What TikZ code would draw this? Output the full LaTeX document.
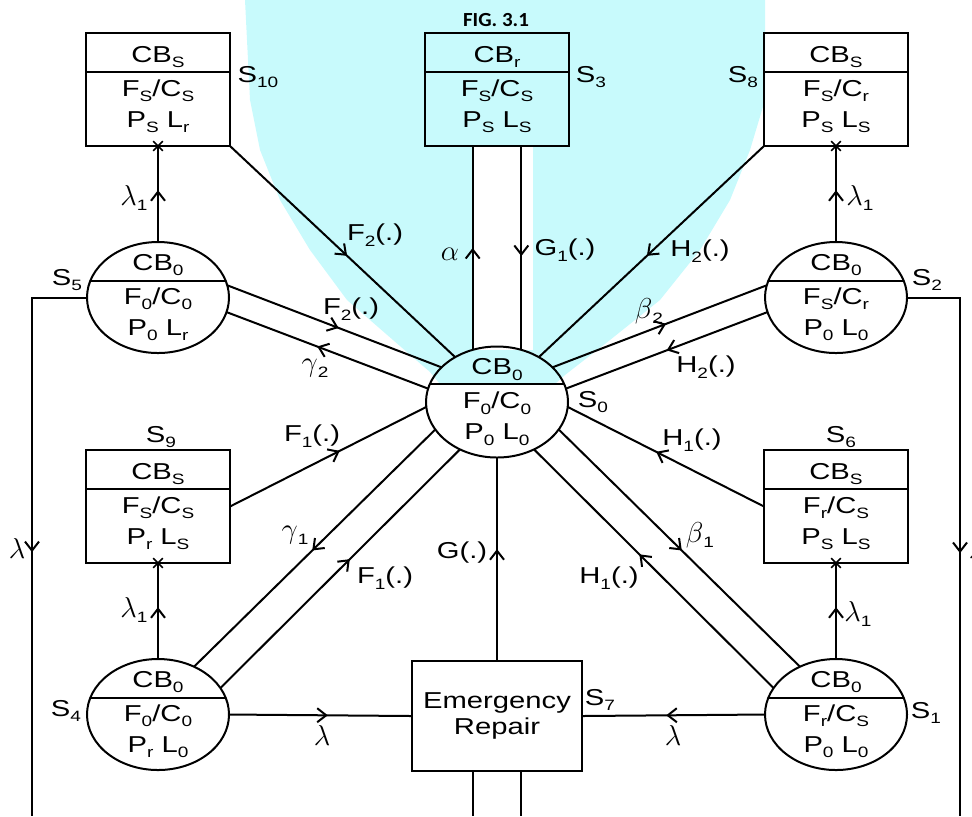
\documentclass[tikz,border=0pt]{standalone}
\usepackage{fontspec}
\setmainfont{Liberation Sans}[FakeStretch=1.27]
\newfontfamily\figfont{Carlito}[FakeStretch=1.05]
\usetikzlibrary{shapes.geometric,shapes.misc,arrows.meta,decorations.markings,calc}

\definecolor{wmcyan}{RGB}{200,250,252}
\newcommand\subt[1]{\raisebox{-2.8pt}{\fontsize{7.5}{7.5}\selectfont #1}}
\newcommand\gk[1]{\scalebox{1.2}{$#1$}}

\tikzset{
	fwd/.style={postaction={decorate},decoration={markings,mark=at position #1 with {\arrow{Straight Barb[length=4.5pt,width=7pt]}}}},
	fwd/.default=0.54,
	stbox/.style={draw,rectangle,minimum width=72pt,minimum height=56.5pt,inner sep=0pt,outer sep=0pt,align=center,font=\fontsize{11.5}{15.5}\selectfont},
	stell/.style={draw,ellipse,minimum width=71pt,minimum height=55.5pt,inner sep=0pt,outer sep=0pt},
	sttxt/.style={align=center,inner sep=0pt,font=\fontsize{11.5}{15.5}\selectfont},
	lab/.style={inner sep=0pt,font=\fontsize{11.5}{13}\selectfont},
	xmark/.style={cross out,draw,minimum size=4pt,inner sep=0pt,line width=.8pt},
}

\begin{document}
\begin{tikzpicture}[x=0.5pt,y=-0.5pt,line width=1pt]
		
		\useasboundingbox (0,0) rectangle (972,816);
		
		% background wash
		\fill[wmcyan] (245,0) -- (250,100) -- (260,150) -- (280,200) -- (310,250) -- (347,300) -- (393,340) -- (430,372) -- (440,384) -- (555,384) -- (565,375) -- (610,340) -- (660,300) -- (700,250) -- (730,200) -- (750,150) -- (765,100) -- (765,0) -- cycle;
		\fill[white] (473,147) rectangle (533,350);
		
		\node[inner sep=0pt,font={\figfont\bfseries\fontsize{10}{11}\selectfont}] (fig) at (496,20) {FIG. 3.1};
		
		\node[stbox] (S10) at (158,89.5) {CB\subt{S}\\[1.5pt]F\subt{S}/C\subt{S}\\P\subt{S} L\subt{r}};
		\node[stbox] (S3) at (497,89.5) {CB\subt{r}\\[1.5pt]F\subt{S}/C\subt{S}\\P\subt{S} L\subt{S}};
		\node[stbox] (S8) at (836,89.5) {CB\subt{S}\\[1.5pt]F\subt{S}/C\subt{r}\\P\subt{S} L\subt{S}};
		\node[stbox] (S9) at (158,506.5) {CB\subt{S}\\[1.5pt]F\subt{S}/C\subt{S}\\P\subt{r} L\subt{S}};
		\node[stbox] (S6) at (836,506.5) {CB\subt{S}\\[1.5pt]F\subt{r}/C\subt{S}\\P\subt{S} L\subt{S}};
		\node[draw,minimum width=85pt,minimum height=55pt,inner sep=0pt,outer sep=0pt,align=center,font=\fontsize{11.5}{13}\selectfont] (ER) at (497,716) {Emergency\\Repair};
		
		\node[stell] (S5) at (158,297.5) {};
		\node[stell] (S0) at (497,402) {};
		\node[stell] (S2) at (836,297.5) {};
		\node[stell] (S4) at (158,714.5) {};
		\node[stell] (S1) at (836,714.5) {};
		
		\node[sttxt] (S5t) at (S5) {CB\subt{0}\\[1.5pt]F\subt{0}/C\subt{0}\\P\subt{0} L\subt{r}};
		\node[sttxt] (S0t) at (S0) {CB\subt{0}\\[1.5pt]F\subt{0}/C\subt{0}\\P\subt{0} L\subt{0}};
		\node[sttxt] (S2t) at (S2) {CB\subt{0}\\[1.5pt]F\subt{S}/C\subt{r}\\P\subt{0} L\subt{0}};
		\node[sttxt] (S4t) at (S4) {CB\subt{0}\\[1.5pt]F\subt{0}/C\subt{0}\\P\subt{r} L\subt{0}};
		\node[sttxt] (S1t) at (S1) {CB\subt{0}\\[1.5pt]F\subt{r}/C\subt{S}\\P\subt{0} L\subt{0}};
		
		% dividers
		\draw ($(S10.north west)+(0,39)$) -- ($(S10.north east)+(0,39)$);
		\draw ($(S3.north west)+(0,39)$) -- ($(S3.north east)+(0,39)$);
		\draw ($(S8.north west)+(0,39)$) -- ($(S8.north east)+(0,39)$);
		\draw ($(S9.north west)+(0,39)$) -- ($(S9.north east)+(0,39)$);
		\draw ($(S6.north west)+(0,39)$) -- ($(S6.north east)+(0,39)$);
		\draw (S5.14) -- (S5.166);
		\draw (S0.15) -- (S0.165);
		\draw (S2.14) -- (S2.166);
		\draw (S4.14) -- (S4.166);
		\draw (S1.14) -- (S1.166);
		
		% state tags
		\node[lab] (tS10) at (258,77) {S\subt{10}};
		\node[lab] (tS3) at (591,77) {S\subt{3}};
		\node[lab] (tS8) at (743,77) {S\subt{8}};
		\node[lab] (tS5) at (67,280) {S\subt{5}};
		\node[lab] (tS2) at (927,280) {S\subt{2}};
		\node[lab] (tS0) at (593,402) {S\subt{0}};
		\node[lab] (tS9) at (161,437) {S\subt{9}};
		\node[lab] (tS6) at (841,437) {S\subt{6}};
		\node[lab] (tS4) at (66,711) {S\subt{4}};
		\node[lab] (tS1) at (926,713) {S\subt{1}};
		\node[lab] (tS7) at (600,700) {S\subt{7}};
		
		% failure of the standby
		\node[xmark] (x10) at (S10.south) {};
		\node[xmark] (x8) at (S8.south) {};
		\node[xmark] (x9) at (S9.south) {};
		\node[xmark] (x6) at (S6.south) {};
		\draw[fwd] (S5.north) -- (S10.south);
		\draw[fwd] (S2.north) -- (S8.south);
		\draw[fwd] (S4.north) -- (S9.south);
		\draw[fwd] (S1.north) -- (S6.south);
		\node[lab] (l10) at (134,198) {\gk{\lambda}\subt{1}};
		\node[lab] (l8) at (860,198) {\gk{\lambda}\subt{1}};
		\node[lab] (l9) at (134,610) {\gk{\lambda}\subt{1}};
		\node[lab] (l6) at (858,614) {\gk{\lambda}\subt{1}};
		
		% top
		\draw[fwd=.52] (S10.south east) -- (S0.133);
		\draw[fwd=.52] (S8.south west) -- (S0.47);
		\draw[fwd=.5] (S0.115) -- (S0.115 |- S3.south);
		\draw[fwd] (S0.65 |- S3.south) -- (S0.65);
		\node[lab] (lF2a) at (375,235) {F\subt{2}(.)};
		\node[lab] (lH2a) at (700,251) {H\subt{2}(.)};
		\node[lab] (la) at (450,254) {\gk{\alpha}};
		\node[lab] (lG1) at (565,250) {G\subt{1}(.)};
		
		% pairs
		\draw[fwd=.52] (S5.10) -- (S0.148);
		\draw[fwd=.55] (S0.169) -- (S5.348);
		\draw[fwd=.53] (S0.32) -- (S2.170);
		\draw[fwd=.5] (S2.192) -- (S0.11);
		\draw[fwd=.56] (S9.east) -- (S0.184);
		\draw[fwd=.55] (S6.west) -- (S0.356);
		\draw[fwd=.51] (S0.204) -- (S4.53);
		\draw[fwd] (S4.23) -- (S0.232);
		\draw[fwd=.51] (S0.336) -- (S1.127);
		\draw[fwd=.56] (S1.157) -- (S0.308);
		\node[lab] (lF2b) at (351,309) {F\subt{2}(.)};
		\node[lab] (lg2) at (315,368) {\gk{\gamma}\subt{2}};
		\node[lab] (lb2) at (649,311) {\gk{\beta}\subt{2}};
		\node[lab] (lH2b) at (706,367) {H\subt{2}(.)};
		\node[lab] (lF1a) at (312,436) {F\subt{1}(.)};
		\node[lab] (lH1a) at (692,440) {H\subt{1}(.)};
		\node[lab] (lg1) at (295,535) {\gk{\gamma}\subt{1}};
		\node[lab] (lb1) at (700,535) {\gk{\beta}\subt{1}};
		\node[lab] (lF1b) at (385,578) {F\subt{1}(.)};
		\node[lab] (lH1b) at (609,578) {H\subt{1}(.)};
		
		% emergency repair
		\draw[fwd=.55] (ER.north) -- (S0.south);
		\draw[fwd] (S4.east) -- (ER.west);
		\draw[fwd] (S1.west) -- (ER.east);
		\node[lab] (lG) at (462,553) {G(.)};
		\node[lab] (lE4) at (322,735) {\gk{\lambda}};
		\node[lab] (lE1) at (673,735) {\gk{\lambda}};
		
		% outer lines
		\coordinate (bl) at (32,816);
		\coordinate (br) at (960,816);
		\coordinate (bm) at (497,816);
		\draw[fwd] (S5.west) -- (S5.west -| bl) -- (bl);
		\draw[fwd] (S2.east) -- (S2.east -| br) -- (br);
		\draw (S0.115 |- ER.south) -- (S0.115 |- bm);
		\draw (S0.65 |- ER.south) -- (S0.65 |- bm);
		\node[lab] (lL5) at (17,548) {\gk{\lambda}};
		\node[lab] (lL2) at (977,548) {\gk{\lambda}};
		
	\end{tikzpicture}
\end{document}
